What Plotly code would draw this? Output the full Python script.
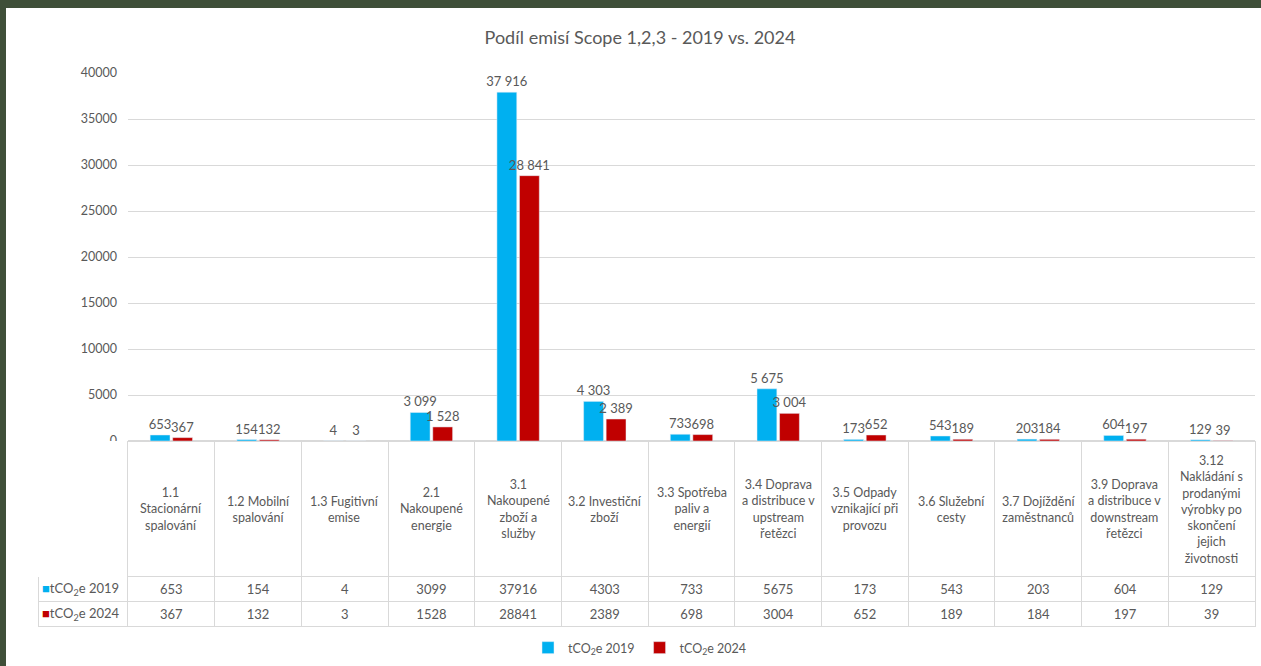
import plotly.graph_objects as go

categories = ["1.1 Stacionární spalování", "1.2 Mobilní spalování", "1.3 Fugitivní emise",
              "2.1 Nakoupené energie", "3.1 Nakoupené zboží a služby", "3.2 Investiční zboží",
              "3.3 Spotřeba paliv a energií", "3.4 Doprava a distribuce v upstream řetězci",
              "3.5 Odpady vznikající při provozu", "3.6 Služební cesty", "3.7 Dojíždění zaměstnanců",
              "3.9 Doprava a distribuce v downstream řetězci",
              "3.12 Nakládání s prodanými výrobky po skončení jejich životnosti"]
header_labels = ["1.1<br>Stacionární<br>spalování", "1.2 Mobilní<br>spalování", "1.3 Fugitivní<br>emise",
                 "2.1<br>Nakoupené<br>energie", "3.1<br>Nakoupené<br>zboží a<br>služby",
                 "3.2 Investiční<br>zboží", "3.3 Spotřeba<br>paliv a<br>energií",
                 "3.4 Doprava<br>a distribuce v<br>upstream<br>řetězci",
                 "3.5 Odpady<br>vznikající při<br>provozu", "3.6 Služební<br>cesty",
                 "3.7 Dojíždění<br>zaměstnanců", "3.9 Doprava<br>a distribuce v<br>downstream<br>řetězci",
                 "3.12<br>Nakládání s<br>prodanými<br>výrobky po<br>skončení<br>jejich<br>životnosti"]
values_2019 = [653, 154, 4, 3099, 37916, 4303, 733, 5675, 173, 543, 203, 604, 129]
values_2024 = [367, 132, 3, 1528, 28841, 2389, 698, 3004, 652, 189, 184, 197, 39]
series_names = ["tCO<sub>2</sub>e 2019", "tCO<sub>2</sub>e 2024"]
y_ticks = [0, 5000, 10000, 15000, 20000, 25000, 30000, 35000, 40000]

BLUE = "#00B0F0"
RED = "#C00000"
GRAY = "#595959"
GRID = "#d9d9d9"
W, H = 1261, 666
FONT = "Lato, Roboto, sans-serif"

fig = go.Figure()
for name, vals, col in [(series_names[0], values_2019, BLUE), (series_names[1], values_2024, RED)]:
    fig.add_trace(go.Bar(
        x=categories, y=vals, name=name, marker_color=col,
        texttemplate="%{y:,}", textposition="outside", cliponaxis=False,
        constraintext="none", textfont=dict(size=13, color=GRAY, family=FONT),
    ))

# data table under the plot
cols = [[" ", " "]] + [[a, b] for a, b in zip(values_2019, values_2024)]
fig.add_trace(go.Table(
    domain=dict(x=[38 / W, 1255 / W], y=[(H - 628) / H, (H - 441) / H]),
    columnwidth=[90] + [86.7] * len(categories),
    header=dict(values=[" "] * (len(categories) + 1), height=135,
                fill_color="white",
                line=dict(color=["white"] + [GRID] * len(categories), width=1)),
    cells=dict(values=cols, height=25, fill_color="white",
               align=["left"] + ["center"] * len(categories),
               line=dict(color=GRID, width=1),
               font=dict(size=13, color=GRAY, family=FONT)),
))

for cat, lab in zip(categories, header_labels):
    fig.add_annotation(x=cat, xref="x", y=(H - 509) / H, yref="paper", text=lab,
                       showarrow=False, yanchor="middle", xanchor="center",
                       font=dict(size=12.5, color=GRAY, family=FONT))

# row labels of the data table with coloured keys
for name, col, ypx in [(series_names[0], BLUE, 589), (series_names[1], RED, 614)]:
    fig.add_annotation(x=40 / W, xref="paper", y=(H - ypx) / H, yref="paper",
                       text="<span style='color:%s'>■</span>%s" % (col, name),
                       showarrow=False, xanchor="left", yanchor="middle",
                       font=dict(size=13, color=GRAY, family=FONT))

fig.update_layout(
    width=W, height=H,
    paper_bgcolor="#3f4f39", plot_bgcolor="rgba(0,0,0,0)",
    margin=dict(l=0, r=0, t=0, b=0, pad=0, autoexpand=False),
    separators=", ",
    title=dict(text="Podíl emisí Scope 1,2,3 - 2019 vs. 2024", x=640 / W, xanchor="center",
               y=(H - 38) / H, yanchor="middle", font=dict(size=18, color=GRAY, family=FONT)),
    barmode="group", bargap=0.48, bargroupgap=0.12,
    xaxis=dict(domain=[128 / W, 1255 / W], showticklabels=False, showgrid=False,
               showline=False, ticks="", zeroline=False, fixedrange=True, automargin=False),
    yaxis=dict(domain=[(H - 441) / H, (H - 73) / H], range=[0, 40000], tickvals=y_ticks,
               tickformat="d", showgrid=True, gridcolor=GRID, zeroline=True, zerolinecolor=GRID,
               showline=False, ticks="", ticklabelstandoff=10, automargin=False,
               tickfont=dict(size=12.5, color=GRAY, family=FONT)),
    legend=dict(orientation="h", x=640 / W, xanchor="center", y=(H - 648) / H, yanchor="middle",
                font=dict(size=12.5, color=GRAY, family=FONT), bgcolor="rgba(0,0,0,0)",
                itemwidth=30),
    shapes=[dict(type="rect", xref="paper", yref="paper", x0=6 / W, x1=1, y0=0, y1=(H - 8) / H,
                 fillcolor="white", line=dict(width=0), layer="below")],
    showlegend=True,
)

fig.write_html("out.html", config={"displayModeBar": False},
               post_script="document.body.style.margin='0';document.body.style.overflow='hidden';")
